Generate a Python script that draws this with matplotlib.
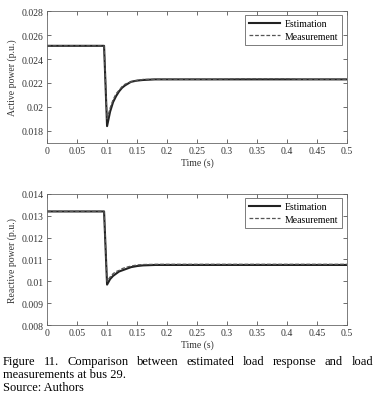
import matplotlib
matplotlib.use("Agg")
import matplotlib.pyplot as plt

plt.rcParams['font.family'] = ['Liberation Serif', 'DejaVu Serif']

# time axis (s)
t = [0, 0.095, 0.1, 0.105, 0.11, 0.115, 0.12, 0.125, 0.13, 0.14, 0.15, 0.16, 0.18, 0.2,
     0.28, 0.32, 0.36, 0.4, 0.42, 0.5]

# active power (p.u.)
p_est = [0.0251, 0.0251, 0.0184, 0.0196, 0.0204, 0.0209, 0.0213, 0.0216, 0.0218, 0.0221,
         0.0222, 0.02225, 0.0223, 0.0223, 0.0223, 0.0223, 0.0223, 0.0223, 0.0223, 0.0223]
p_meas = [0.0251, 0.0251, 0.0190, 0.0199, 0.0206, 0.0211, 0.0214, 0.0217, 0.0219, 0.0221,
          0.0222, 0.0223, 0.0223, 0.0223, 0.0223, 0.02235, 0.02235, 0.02235, 0.0223, 0.0223]

# reactive power (p.u.)
q_est = [0.0132, 0.0132, 0.00985, 0.0101, 0.01025, 0.01035, 0.01045, 0.0105, 0.01055, 0.01065,
         0.0107, 0.01073, 0.01075, 0.01075, 0.01075, 0.01075, 0.01075, 0.01075, 0.01075, 0.01075]
q_meas = [0.0132, 0.0132, 0.0100, 0.0102, 0.01035, 0.01045, 0.0105, 0.01058, 0.01063, 0.0107,
          0.01075, 0.01077, 0.01078, 0.01078, 0.01078, 0.01078, 0.01078, 0.01078, 0.01078, 0.01078]

xticks = [0, 0.05, 0.1, 0.15, 0.2, 0.25, 0.3, 0.35, 0.4, 0.45, 0.5]
xticklabels = ['0', '0.05', '0.1', '0.15', '0.2', '0.25', '0.3', '0.35', '0.4', '0.45', '0.5']

fig = plt.figure(figsize=(3.77, 4.02), dpi=100)
ax1 = fig.add_axes([0.125, 0.642, 0.795, 0.328])
ax2 = fig.add_axes([0.125, 0.189, 0.795, 0.326])

panels = [
    (ax1, p_est, p_meas, 'Active power (p.u.)', (0.017, 0.028),
     [0.018, 0.02, 0.022, 0.024, 0.026, 0.028], ['0.018', '0.02', '0.022', '0.024', '0.026', '0.028']),
    (ax2, q_est, q_meas, 'Reactive power (p.u.)', (0.008, 0.014),
     [0.008, 0.009, 0.01, 0.011, 0.012, 0.013, 0.014],
     ['0.008', '0.009', '0.01', '0.011', '0.012', '0.013', '0.014']),
]

for ax, est, meas, ylab, ylim, yt, ytl in panels:
    ax.plot(t, est, color='#222222', lw=1.5, label='Estimation')
    ax.plot(t, meas, color='#555555', lw=0.9, ls=(0, (3, 1.5)), label='Measurement')
    ax.set_xlim(0, 0.5)
    ax.set_ylim(*ylim)
    ax.set_xticks(xticks)
    ax.set_xticklabels(xticklabels)
    ax.set_yticks(yt)
    ax.set_yticklabels(ytl)
    ax.tick_params(direction='in', top=True, right=True, labelsize=7, length=3,
                   width=0.5, pad=2.5, colors='#333333')
    for s in ax.spines.values():
        s.set_linewidth(0.6)
        s.set_color('#666666')
    ax.set_xlabel('Time (s)', fontsize=7, labelpad=1.5, color='#333333')
    ax.set_ylabel(ylab, fontsize=7, labelpad=3, color='#333333')
    leg = ax.legend(loc='upper right', fontsize=7, fancybox=False, framealpha=1,
                    edgecolor='#666666', handlelength=3.2, borderaxespad=0.45,
                    labelspacing=0.35, borderpad=0.4, handletextpad=0.5)
    leg.get_frame().set_linewidth(0.6)

# caption, first line justified
fig.canvas.draw()
r = fig.canvas.get_renderer()
words = ['Figure', '11.', 'Comparison', 'between', 'estimated', 'load', 'response', 'and', 'load']
x0, x1 = 3 / 377, 373 / 377
ypos = 1 - 362 / 402
texts = [fig.text(0, ypos, w, fontsize=9, va='center') for w in words]
widths = [tx.get_window_extent(r).width / fig.bbox.width for tx in texts]
gap = (x1 - x0 - sum(widths)) / (len(words) - 1)
xp = x0
for tx, w in zip(texts, widths):
    tx.set_x(xp)
    xp += w + gap
fig.text(x0, 1 - 375 / 402, 'measurements at bus 29.', fontsize=9, va='center')
fig.text(x0, 1 - 388 / 402, 'Source: Authors', fontsize=9, va='center')

fig.savefig('out.png', dpi=100)
